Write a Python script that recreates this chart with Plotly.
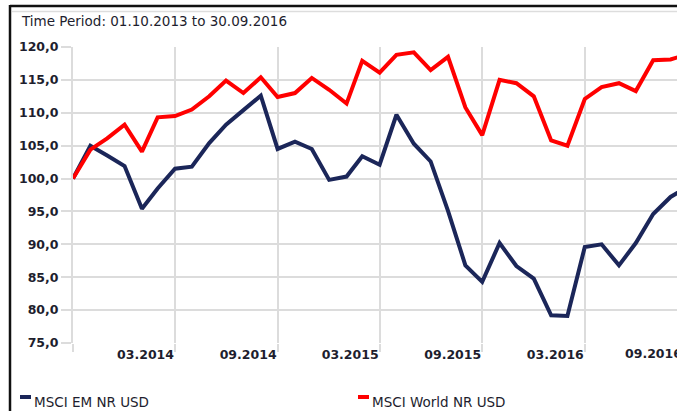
import pandas as pd
import plotly.graph_objects as go

title_text = "Time Period: 01.10.2013 to 30.09.2016"
series_em_name = "MSCI EM NR USD"
series_world_name = "MSCI World NR USD"

dates = pd.date_range("2013-09-30", periods=37, freq=pd.offsets.MonthEnd())

em_values = [100.0, 105.0, 103.5, 101.9, 95.4, 98.5, 101.5, 101.8, 105.4, 108.2,
             110.4, 112.6, 104.5, 105.6, 104.5, 99.8, 100.3, 103.4, 102.1, 109.7,
             105.3, 102.6, 95.1, 86.8, 84.3, 90.2, 86.7, 84.8, 79.2, 79.1,
             89.6, 90.0, 86.8, 90.2, 94.6, 97.2, 98.7]

world_values = [100.0, 104.4, 106.1, 108.2, 104.1, 109.3, 109.5, 110.5, 112.5, 114.9,
                113.0, 115.4, 112.4, 113.0, 115.3, 113.5, 111.4, 117.9, 116.1, 118.8,
                119.2, 116.5, 118.5, 110.8, 106.6, 115.0, 114.5, 112.5, 105.8, 105.0,
                112.1, 113.9, 114.5, 113.3, 118.0, 118.1, 118.9]

tick_dates = ["2013-09-30", "2014-03-31", "2014-09-30", "2015-03-31", "2015-09-30", "2016-03-31"]
tick_labels = ["", "03.2014", "09.2014", "03.2015", "09.2015", "03.2016"]
last_tick_label = "09.2016"

y_ticks = [75, 80, 85, 90, 95, 100, 105, 110, 115, 120]

EM_COLOR = "#1b2659"
WORLD_COLOR = "#ff0000"
GRID = "#dcdcdc"
TEXT = "#1e1e2e"
FONT = "DejaVu Sans"

W, H = 677, 411
ML, MR, MT, MB = 73, 0, 47, 68
PW, PH = W - ML - MR, H - MT - MB


def px(xp):
    return (xp - ML) / PW


def py(yp):
    return (H - MB - yp) / PH


fig = go.Figure()
fig.add_trace(go.Scatter(x=dates, y=em_values, mode="lines", name=series_em_name,
                         line=dict(color=EM_COLOR, width=4), showlegend=False))
fig.add_trace(go.Scatter(x=dates, y=world_values, mode="lines", name=series_world_name,
                         line=dict(color=WORLD_COLOR, width=4), showlegend=False))

fig.update_layout(
    width=W, height=H,
    margin=dict(l=ML, r=MR, t=MT, b=MB),
    paper_bgcolor="white", plot_bgcolor="white",
    separators=",.",
    font=dict(family=FONT, size=13, color=TEXT),
    xaxis=dict(
        type="date",
        range=["2013-09-30", "2016-09-11 12:00"],
        tickmode="array", tickvals=tick_dates, ticktext=tick_labels,
        ticklabelposition="outside left",
        ticks="outside", ticklen=8, tickcolor=GRID, tickwidth=2,
        showgrid=True, gridcolor=GRID, gridwidth=2,
        showline=False, zeroline=False,
        tickfont=dict(family=FONT, size=12.5, color=TEXT, weight=600),
    ),
    yaxis=dict(
        range=[75, 120],
        tickmode="array", tickvals=y_ticks, tickformat=".1f",
        ticks="outside", ticklen=10, tickcolor=GRID, tickwidth=2,
        showgrid=True, gridcolor=GRID, gridwidth=2,
        showline=True, linecolor=GRID, linewidth=2,
        zeroline=False,
        tickfont=dict(family=FONT, size=12.5, color=TEXT, weight=600),
    ),
)

# frame lines
fig.add_shape(type="line", xref="paper", yref="paper", x0=px(10), x1=px(W + 5), y0=py(6), y1=py(6),
              line=dict(color="#111111", width=2.5), layer="above")
fig.add_shape(type="line", xref="paper", yref="paper", x0=px(10), x1=px(10), y0=py(5), y1=py(H + 5),
              line=dict(color="#111111", width=2.5), layer="above")
fig.add_shape(type="line", xref="paper", yref="paper", x0=px(12), x1=px(W + 5), y0=py(11.5), y1=py(11.5),
              line=dict(color="#dddddd", width=1.5), layer="above")

# title
fig.add_annotation(xref="paper", yref="paper", x=px(19), y=py(21), text=title_text,
                   showarrow=False, xanchor="left", yanchor="middle",
                   font=dict(family=FONT, size=13.5, color=TEXT))

# last (cut) tick label
fig.add_annotation(xref="paper", yref="paper", x=px(684), y=py(353.5), text=last_tick_label,
                   showarrow=False, xanchor="right", yanchor="middle",
                   font=dict(family=FONT, size=12.5, color=TEXT, weight=600))

# legend
for x0, name, col in [(20, series_em_name, EM_COLOR), (358, series_world_name, WORLD_COLOR)]:
    fig.add_shape(type="rect", xref="paper", yref="paper", x0=px(x0), x1=px(x0 + 11),
                  y0=py(399), y1=py(395), fillcolor=col, line=dict(width=0))
    fig.add_annotation(xref="paper", yref="paper", x=px(x0 + 12), y=py(401.5), text=name,
                       showarrow=False, xanchor="left", yanchor="middle",
                       font=dict(family=FONT, size=13.5, color=TEXT))

fig.write_html("out.html",
               config={"displayModeBar": False},
               post_script="document.body.style.margin='0';document.body.style.padding='0';"
                           "document.body.style.overflow='hidden';")
